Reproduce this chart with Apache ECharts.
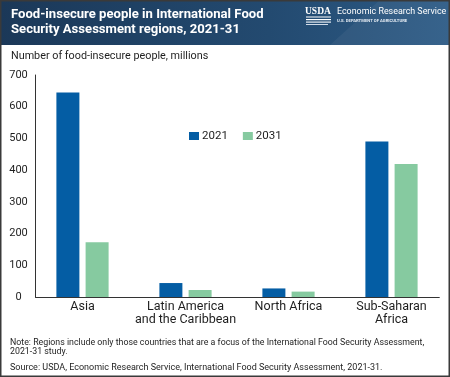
<!DOCTYPE html>
<html>
<head>
<meta charset="utf-8">
<script src="https://cdn.jsdelivr.net/npm/echarts@6/dist/echarts.min.js"></script>
<style>
html,body{margin:0;padding:0;background:#fff;}
#chart{width:450px;height:377px;}
</style>
</head>
<body>
<div id="chart"></div>
<script>
const categories = ['Asia', 'Latin America\nand the Caribbean', 'North Africa', 'Sub-Saharan\nAfrica'];
const seriesNames = ['2021', '2031'];
const values2021 = [645, 44, 27, 490];
const values2031 = [173, 22, 17, 419];
const yMin = 0, yMax = 700, yStep = 100;

const FONT = 'Roboto, "Liberation Sans", sans-serif';
const TXT = '#1e1e1e';
const chart = echarts.init(document.getElementById('chart'), null, {renderer: 'canvas'});

const option = {
  backgroundColor: '#ffffff',
  animation: false,
  textStyle: {fontFamily: FONT},
  grid: [
    {left: 31, right: 7, top: 75, bottom: 80},
    {left: 35.5, right: 10.7, top: 75, bottom: 80}
  ],
  legend: {
    data: seriesNames,
    left: 189, top: 130, padding: 0,
    itemWidth: 10, itemHeight: 8, itemGap: 15,
    icon: 'rect',
    textStyle: {fontFamily: FONT, fontSize: 11.5, color: TXT, padding: [0, 0, 0, -2]}
  },
  xAxis: [
    {
      type: 'category', gridIndex: 0, data: categories,
      axisLine: {show: false}, axisTick: {show: false},
      axisLabel: {fontFamily: FONT, fontSize: 12.5, color: TXT, margin: 3, lineHeight: 13, interval: 0}
    },
    {
      type: 'value', gridIndex: 1, min: 0, max: 1,
      axisLine: {show: true, lineStyle: {color: '#333', width: 1}},
      axisTick: {show: false}, axisLabel: {show: false}, splitLine: {show: false}
    }
  ],
  yAxis: [
    {type: 'value', gridIndex: 0, min: yMin, max: yMax, interval: yStep, show: false},
    {
      type: 'value', gridIndex: 1, min: yMin, max: yMax, interval: yStep,
      axisLine: {show: true, lineStyle: {color: '#333', width: 1}},
      axisTick: {show: false}, splitLine: {show: false},
      axisLabel: {fontFamily: FONT, fontSize: 11, color: TXT, align: 'center', margin: 17}
    }
  ],
  series: [
    {name: seriesNames[0], type: 'bar', xAxisIndex: 0, yAxisIndex: 0, data: values2021,
     barWidth: 23, barGap: '27%', itemStyle: {color: '#045da4'}},
    {name: seriesNames[1], type: 'bar', xAxisIndex: 0, yAxisIndex: 0, data: values2031,
     barWidth: 23, barGap: '27%', itemStyle: {color: '#86caa0'}}
  ],
  graphic: [
    {type: 'rect', z: 0, shape: {x: 0, y: 0, width: 450, height: 45},
     style: {fill: new echarts.graphic.LinearGradient(0, 0, 1, 0.3, [
       {offset: 0, color: '#1b3858'}, {offset: 0.6, color: '#234a70'}, {offset: 1, color: '#2d5b86'}])}},
    {type: 'polygon', z: 1, shape: {points: [[330, 45], [380, 0], [450, 0], [450, 45]]},
     style: {fill: 'rgba(255,255,255,0.05)'}},
    {type: 'text', z: 2, left: 11, top: 7.5,
     style: {text: 'Food-insecure people in International Food\nSecurity Assessment regions, 2021-31',
             fill: '#ffffff', font: 'bold 13.1px ' + FONT, lineHeight: 15}},
    {type: 'text', z: 2, left: 305, top: 7,
     style: {text: 'USDA', fill: '#ffffff', font: 'bold 9.5px "Liberation Serif", serif'}},
    {type: 'rect', z: 2, shape: {x: 306, y: 16.5, width: 25, height: 1}, style: {fill: '#ffffff'}},
    {type: 'rect', z: 2, shape: {x: 306, y: 19, width: 25, height: 1.2}, style: {fill: '#ffffff'}},
    {type: 'rect', z: 2, shape: {x: 306, y: 21.5, width: 25, height: 1.2}, style: {fill: '#e8eef5'}},
    {type: 'rect', z: 2, shape: {x: 306, y: 24, width: 22, height: 1}, style: {fill: '#d0dbe8'}},
    {type: 'text', z: 2, left: 337, top: 7.5,
     style: {text: 'Economic Research Service', fill: '#ffffff', font: '8.9px ' + FONT}},
    {type: 'text', z: 2, left: 337, top: 18.5,
     style: {text: 'U.S. DEPARTMENT OF AGRICULTURE', fill: '#e4ebf3', font: 'bold 4.2px ' + FONT}},
    {type: 'text', left: 11, top: 51,
     style: {text: 'Number of food-insecure people, millions', fill: TXT, font: '10.8px ' + FONT}},
    {type: 'text', left: 10, top: 338,
     style: {text: 'Note: Regions include only those countries that are a focus of the International Food Security Assessment,\n2021-31 study.',
             fill: TXT, font: '8.8px ' + FONT, lineHeight: 9.5}},
    {type: 'text', left: 10, top: 363,
     style: {text: 'Source: USDA, Economic Research Service, International Food Security Assessment, 2021-31.',
             fill: TXT, font: '9px ' + FONT}},
    {type: 'rect', z: 10, shape: {x: 0.75, y: 0.75, width: 448.5, height: 375.5},
     style: {fill: 'none', stroke: '#3a3a3a', lineWidth: 1.5}}
  ]
};
chart.setOption(option);
</script>
</body>
</html>
